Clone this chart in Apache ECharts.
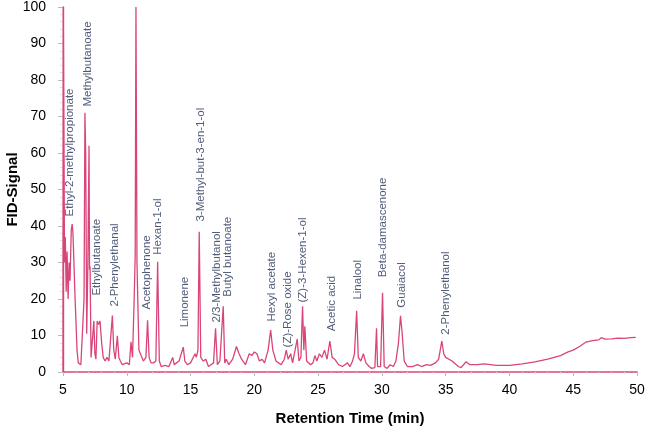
<!DOCTYPE html>
<html>
<head>
<meta charset="utf-8">
<script src="https://cdn.jsdelivr.net/npm/echarts@6/dist/echarts.min.js"></script>
<style>
html,body{margin:0;padding:0;background:#fff;}
#chart{width:647px;height:431px;}
</style>
</head>
<body>
<div id="chart"></div>
<script>
// Retention time (min) and FID signal of the chromatogram trace
const traceTime = [
  5.00,5.02,5.08,5.12,5.18,5.25,5.32,5.40,5.48,5.55,5.65,5.72,5.78,5.95,6.10,6.20,6.40,6.55,
  6.65,6.72,6.78,6.86,6.95,7.04,7.08,7.12,7.20,7.30,7.42,7.50,7.58,7.68,7.80,7.90,8.03,8.15,
  8.30,8.45,8.60,8.87,8.98,9.10,9.26,9.38,9.50,9.65,9.80,10.00,10.20,10.33,10.45,10.58,10.66,
  10.72,10.80,10.95,11.10,11.30,11.50,11.63,11.75,11.90,12.10,12.28,12.42,12.55,12.70,13.00,
  13.30,13.60,13.72,13.90,14.10,14.43,14.55,14.75,15.00,15.35,15.45,15.58,15.68,15.80,16.00,
  16.20,16.40,16.60,16.80,16.96,17.10,17.30,17.45,17.56,17.68,17.80,18.00,18.30,18.60,18.80,
  19.00,19.30,19.60,19.80,20.00,20.20,20.40,20.60,20.80,21.08,21.28,21.45,21.70,21.90,22.10,
  22.35,22.50,22.65,22.85,23.00,23.15,23.36,23.50,23.65,23.78,23.88,23.96,24.10,24.40,24.60,
  24.75,24.90,25.10,25.30,25.50,25.70,25.92,26.10,26.30,26.60,26.90,27.10,27.30,27.50,27.70,
  27.85,28.02,28.15,28.35,28.55,28.75,29.00,29.20,29.45,29.58,29.66,29.75,29.90,30.05,30.18,
  30.40,30.65,30.90,31.10,31.30,31.46,31.58,31.75,32.00,32.40,32.80,33.10,33.50,33.80,34.20,
  34.45,34.70,34.85,35.00,35.50,36.00,36.20,36.40,36.60,36.90,37.50,38.00,39.00,40.00,41.00,
  42.00,43.00,44.00,44.60,45.00,45.50,46.00,46.50,47.00,47.20,47.50,48.00,48.50,49.00,49.50,49.90
];
const traceSignal = [
  0,100,100,30,37,22,33,20,30,25,39,40.5,38,20,6,2.5,2,2.5,
  20,71,60,10.5,30,62,28,29,4,3.5,14,5,3.5,14,13,14,8,4,
  3,4,3,15.5,6,3.5,9.9,4,3,2,1.5,2.5,2,8.3,4,20,32,
  100,30,6,5.5,3,4,14.2,4,2.5,2.5,3,30.2,3,1.5,1.8,
  1.5,4,2,2.5,3,6.8,3,2,2.5,5,4,6,38.4,4,3,
  3.5,1.5,2,2.5,12,2,3,2.5,18,2.5,3.5,2,3.5,7,5,
  3.5,2,5,4.5,5.5,5,3,3.5,2.5,6,11.5,6,3,2.5,2,
  3.5,6,3.5,5,2.5,3,9,3,4,18,6,12.5,3,2,2.5,
  4.5,3,5,4,6,3.5,8.5,4,3.5,2,1.5,2,2.5,1.5,3,
  5,16.8,4,3,5,2.5,1.5,1,1.2,12,1.5,1.5,1.5,21.7,1.5,
  1,2,1.5,3,8,15.4,11,3,1.5,1.5,2,1.5,2,1.8,2.5,
  3.5,8.5,5,4,3,1.5,1.2,2,2.8,2,2,2.2,1.8,1.8,2.2,
  2.8,3.5,4.5,5.5,6,7,8.2,8.6,8.8,9.4,9.0,9.1,9.3,9.2,9.4,9.5
];

// Peak annotations
const peakNames = [
  'Ethyl-2-methylpropionate','Methylbutanoate','Ethylbutanoate','2-Phenylethanal','Acetophenone',
  'Hexan-1-ol','Limonene','3-Methyl-but-3-en-1-ol','2/3-Methylbutanol','Butyl butanoate',
  'Hexyl acetate','(Z)-Rose oxide','(Z)-3-Hexen-1-ol','Acetic acid','Linalool',
  'Beta-damascenone','Guaiacol','2-Phenylethanol'
];
const peakLabelTime = [5.55,6.96,7.66,9.08,11.58,12.45,14.56,15.81,17.07,17.93,21.38,22.63,23.81,26.08,28.12,30.08,31.57,35.09];
const peakLabelSignal = [42.5,72.6,20.8,17.8,17.0,32.0,12.1,41.1,13.4,20.5,13.7,6.6,18.9,11.0,19.7,25.8,17.5,10.1];

// Axis ticks
const xTicks = [5,10,15,20,25,30,35,40,45,50];
const yTicks = [0,10,20,30,40,50,60,70,80,90,100];

const traceData = traceTime.map((t, i) => [t, traceSignal[i]]);
const labelData = peakNames.map((n, i) => ({ name: n, value: [peakLabelTime[i], peakLabelSignal[i]] }));

const lineColor = '#d9457a';
const chart = echarts.init(document.getElementById('chart'));
chart.setOption({
  animation: false,
  backgroundColor: '#fff',
  grid: { left: 63, right: 10, top: 7, bottom: 59, containLabel: false, outerBoundsMode: 'none' },
  xAxis: {
    type: 'value',
    min: xTicks[0], max: xTicks[xTicks.length - 1], interval: 5,
    name: 'Retention Time (min)',
    nameLocation: 'middle',
    nameGap: 39,
    nameMoveOverlap: false,
    nameTextStyle: { fontFamily: 'Liberation Sans, Arial', fontSize: 15, fontWeight: 'bold', color: '#000' },
    axisLine: { show: true, onZero: false, lineStyle: { color: lineColor, width: 1.6 } },
    axisTick: { show: true, length: 4, lineStyle: { color: '#bbb' } },
    minorTick: { show: true, splitNumber: 5, length: 2, lineStyle: { color: '#ddd' } },
    splitLine: { show: false },
    axisLabel: { fontFamily: 'Liberation Sans, Arial', fontSize: 14, color: '#000', margin: 11 }
  },
  yAxis: {
    type: 'value',
    min: yTicks[0], max: yTicks[yTicks.length - 1], interval: 10,
    name: 'FID-Signal',
    nameLocation: 'middle',
    nameRotate: 90,
    nameGap: 43,
    nameMoveOverlap: false,
    nameTextStyle: { fontFamily: 'Liberation Sans, Arial', fontSize: 15, fontWeight: 'bold', color: '#000' },
    axisLine: { show: true, lineStyle: { color: lineColor, width: 1.4 } },
    axisTick: { show: true, length: 5, lineStyle: { color: '#bbb' } },
    minorTick: { show: true, splitNumber: 5, length: 3, lineStyle: { color: '#ddd' } },
    splitLine: { show: false },
    axisLabel: { fontFamily: 'Liberation Sans, Arial', fontSize: 14, color: '#000', margin: 17 }
  },
  series: [
    {
      type: 'line',
      data: traceData,
      showSymbol: false,
      symbol: 'none',
      lineStyle: { color: lineColor, width: 1.3 },
      z: 3
    },
    {
      type: 'scatter',
      data: labelData,
      symbolSize: 1,
      itemStyle: { color: 'rgba(255,255,255,0)' },
      label: {
        show: true,
        position: [0, 0],
        rotate: 90,
        align: 'left',
        verticalAlign: 'middle',
        formatter: p => p.name,
        fontFamily: 'Liberation Sans, Arial',
        fontSize: 11.5,
        color: '#1f2f55'
      },
      labelLayout: { hideOverlap: false },
      z: 4
    }
  ]
});
</script>
</body>
</html>
